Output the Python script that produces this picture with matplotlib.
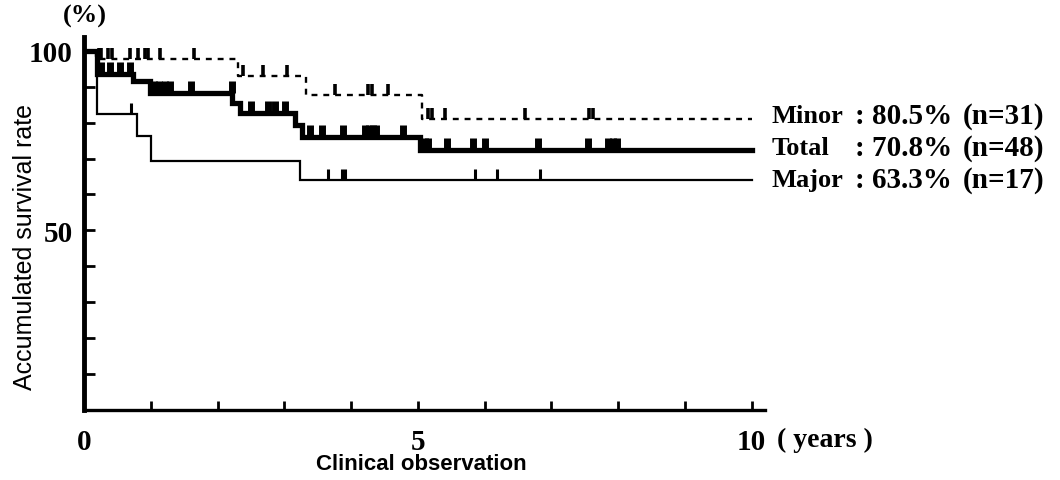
import numpy as np
import matplotlib
matplotlib.use('Agg')
import matplotlib.pyplot as plt
from matplotlib.path import Path

# step curves (years, survival %)
minor_t = [0, 0.18, 2.31, 3.33, 5.06]
minor_s = [100, 97.6, 93.0, 87.6, 81.0]
total_t = [0, 0.19, 0.74, 0.99, 2.22, 2.33, 3.16, 3.27, 5.03]
total_s = [100, 93.6, 91.5, 88.2, 85.5, 82.6, 79.3, 75.9, 72.3]
major_t = [0, 0.19, 0.79, 1.01, 3.23]
major_s = [100, 82.4, 76.3, 69.3, 63.9]
end_t = 10.0

# censored observations (years)
minor_cens = [0.22, 0.25, 0.36, 0.42, 0.69, 0.81, 0.91, 0.96, 1.14, 1.65, 2.38, 2.68, 3.04,
              3.76, 4.26, 4.31, 4.56, 5.15, 5.21, 5.40, 6.60, 7.57, 7.63]
total_cens = [0.26, 0.39, 0.54, 0.69, 1.05, 1.12, 1.22, 1.29, 1.61, 2.21, 2.50, 2.76, 2.86,
              3.01, 3.38, 3.56, 3.88, 4.21, 4.27, 4.33, 4.38, 4.78, 5.11, 5.15, 5.43, 5.83,
              6.00, 6.80, 7.55, 7.85, 7.92, 7.99]
major_cens = [0.71, 3.65, 3.86, 3.91, 5.85, 6.18, 6.83]

labels = ['Minor', 'Total', 'Major']
rates = ['80.5%', '70.8%', '63.3%']
ns = ['(n=31)', '(n=48)', '(n=17)']

serif = 'Liberation Serif'
sans = ['Liberation Sans Narrow', 'Liberation Sans', 'DejaVu Sans']

fig = plt.figure(figsize=(10.6, 4.81), dpi=100)
ax = fig.add_axes([84 / 1060, 69.7 / 481, 681 / 1060, 373 / 481])

tick_up = Path([(0, 0), (0, 1)], [Path.MOVETO, Path.LINETO])


def km(t, s, cens, **kw):
    tt = list(t) + [end_t]
    ss = list(s) + [s[-1]]
    ax.step(tt, ss, where='post', color='black', solid_joinstyle='miter', **kw)
    idx = np.searchsorted(t, cens, side='right') - 1
    lvl = np.array(s)[idx]
    return lvl


lv = km(minor_t, minor_s, minor_cens, lw=1.7, ls=(0, (2.5, 2.5)))
ax.plot(minor_cens, lv, ls='none', marker=tick_up, ms=16, mew=2.6, color='black')
lv = km(total_t, total_s, total_cens, lw=3.8)
ax.plot(total_cens, lv, ls='none', marker=tick_up, ms=17, mew=5, color='black')
lv = km(major_t, major_s, major_cens, lw=1.6)
ax.plot(major_cens, lv, ls='none', marker=tick_up, ms=16, mew=2.2, color='black')

ax.set_xlim(0, 10.2)
ax.set_ylim(0, 103.7)
for side in ['top', 'right']:
    ax.spines[side].set_visible(False)
ax.spines['left'].set_linewidth(3.5)
ax.spines['bottom'].set_linewidth(2.4)

ax.set_xticks(range(0, 11))
ax.set_xticklabels(['0', '', '', '', '', '5', '', '', '', '', '10'])
ax.set_yticks(range(10, 101, 10))
ax.set_yticklabels(['', '', '', '', '50', '', '', '', '', '100'])
ax.tick_params(axis='x', direction='in', length=6.5, width=2, pad=13)
ax.tick_params(axis='y', direction='in', length=8, width=2, pad=8)
for lab in ax.get_xticklabels() + ax.get_yticklabels():
    lab.set_fontfamily(serif)
    lab.set_fontweight('bold')
    lab.set_fontsize(21)

# right-hand labels
ys = [116.7, 148.3, 180.0]
for name, r, n, y in zip(labels, rates, ns, ys):
    yf = 1 - y / 481
    fig.text(772 / 1060, yf, name, family=serif, weight='bold', fontsize=19, va='center')
    fig.text(855 / 1060, yf, ': ' + r, family=serif, weight='bold', fontsize=21, va='center')
    fig.text(963 / 1060, yf, n, family=serif, weight='bold', fontsize=21, va='center')

fig.text(777 / 1060, 1 - 440 / 481, '( years )', family=serif, weight='bold', fontsize=20, va='center')
fig.text(85 / 1060, 1 - 16 / 481, '(%)', family=serif, weight='bold', fontsize=19, va='center', ha='center')
fig.text(421 / 1060, 1 - 465 / 481, 'Clinical observation', family=sans, weight='bold', fontsize=16,
         va='center', ha='center')
fig.text(25 / 1060, 1 - 247 / 481, 'Accumulated survival rate', family=sans, fontsize=18,
         rotation=90, va='center', ha='center')

fig.savefig('out.png', dpi=100)
